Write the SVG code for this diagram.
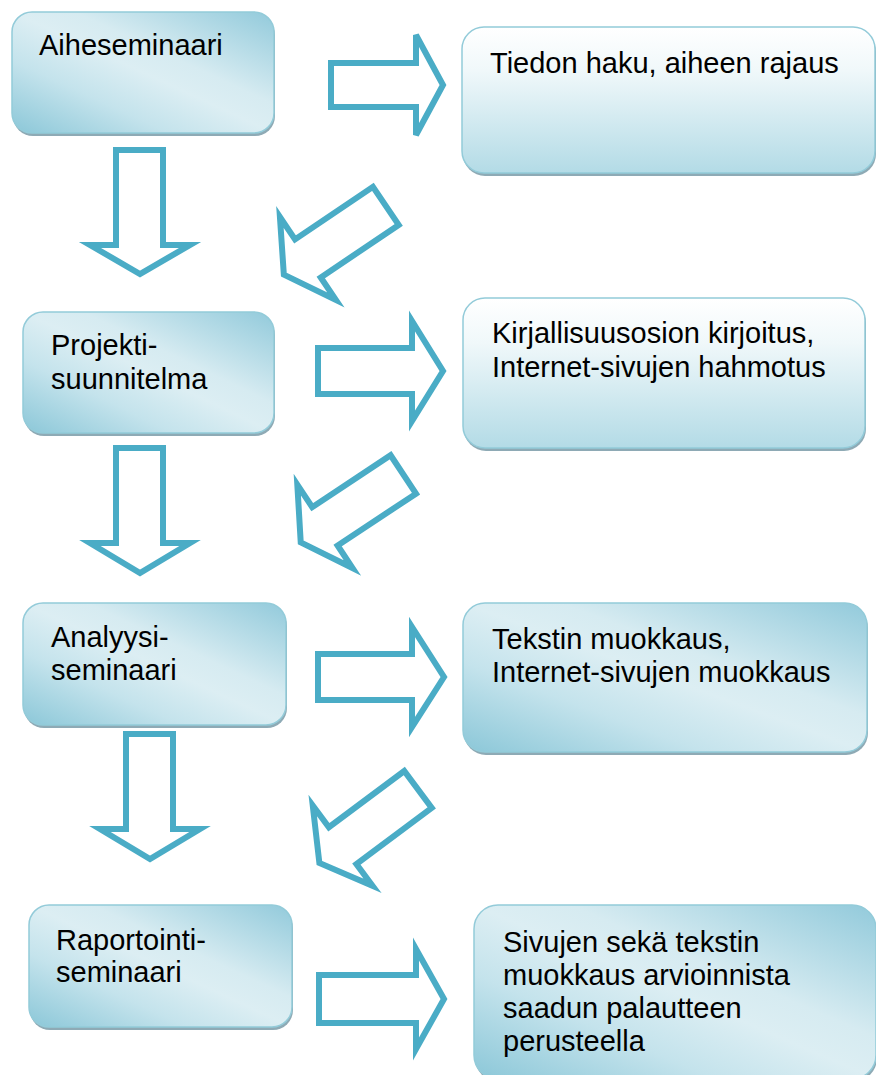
<svg xmlns="http://www.w3.org/2000/svg" width="876" height="1075" viewBox="0 0 876 1075">
<defs>
<linearGradient id="gDiag" x1="0" y1="1" x2="1" y2="0">
<stop offset="0" stop-color="#8bc7d8"/>
<stop offset="0.3" stop-color="#c4e3ec"/>
<stop offset="0.5" stop-color="#dceef3"/>
<stop offset="0.62" stop-color="#d6ebf1"/>
<stop offset="1" stop-color="#92cadb"/>
</linearGradient>
<linearGradient id="gVert" x1="0" y1="0" x2="0" y2="1">
<stop offset="0" stop-color="#ffffff"/>
<stop offset="0.3" stop-color="#f0f8fa"/>
<stop offset="1" stop-color="#b3dbe6"/>
</linearGradient>
<path id="diagArrow" d="M3,-23 H97 V-50 L126,0 L97,50 V23 H3 Z"/>
</defs>
<style>
.shadow{fill:#8eaab5;}
.boxD{fill:url(#gDiag);stroke:#93cbd9;stroke-width:1.5;}
.boxV{fill:url(#gVert);stroke:#93cbd9;stroke-width:1.5;}
.lbl{font-family:"Liberation Sans",Arial,sans-serif;font-size:29px;fill:#000;}
.arrow{fill:#fff;stroke:#4aacc6;stroke-width:6;stroke-linejoin:miter;}
</style>
<rect width="876" height="1075" fill="#fff"/>

<g id="connectors">
<path class="arrow" d="M331,63 H416 V35 L443,85 L416,135 V107 H331 Z"/>
<path class="arrow" d="M318,348 H412 V321 L443,371 L412,421 V394 H318 Z"/>
<path class="arrow" d="M318,654 H412 V627 L444,677 L412,727 V700 H318 Z"/>
<path class="arrow" d="M319,975 H416 V949 L444,999 L416,1049 V1023 H319 Z"/>
<path class="arrow" d="M116,150 V245 H90 L140,274 L190,245 H163 V150 Z"/>
<path class="arrow" d="M116,448 V543 H90 L140,573 L190,543 H163 V448 Z"/>
<path class="arrow" d="M126,734 V829 H100 L150,859 L200,829 H173 V734 Z"/>
<use href="#diagArrow" class="arrow" transform="translate(388.3,204.2) rotate(146)"/>
<use href="#diagArrow" class="arrow" transform="translate(405.8,472.8) rotate(146.5)"/>
<use href="#diagArrow" class="arrow" transform="translate(420.4,787.7) rotate(143.3)"/>
</g>

<g id="aiheseminaari">
<rect class="shadow" x="13" y="15" width="262" height="121" rx="20"/>
<rect class="boxD" x="12" y="12" width="262" height="121" rx="20"/>
<text class="lbl" x="39" y="55">Aiheseminaari</text>
</g>

<g id="tiedon-haku">
<rect class="shadow" x="463" y="30" width="413" height="146" rx="22"/>
<rect class="boxV" x="462" y="27" width="413" height="146" rx="22"/>
<text class="lbl" x="490" y="73">Tiedon haku, aiheen rajaus</text>
</g>

<g id="projektisuunnitelma">
<rect class="shadow" x="24" y="315" width="251" height="121" rx="20"/>
<rect class="boxD" x="23" y="312" width="251" height="121" rx="20"/>
<text class="lbl" x="51" y="355">Projekti-</text>
<text class="lbl" x="51" y="389">suunnitelma</text>
</g>

<g id="kirjallisuusosio">
<rect class="shadow" x="464" y="301" width="402" height="150" rx="22"/>
<rect class="boxV" x="463" y="298" width="402" height="150" rx="22"/>
<text class="lbl" x="492" y="343">Kirjallisuusosion kirjoitus,</text>
<text class="lbl" x="492" y="377">Internet-sivujen hahmotus</text>
</g>

<g id="analyysiseminaari">
<rect class="shadow" x="24" y="606" width="263" height="122" rx="20"/>
<rect class="boxD" x="23" y="603" width="263" height="122" rx="20"/>
<text class="lbl" x="51" y="647">Analyysi-</text>
<text class="lbl" x="51" y="680">seminaari</text>
</g>

<g id="tekstin-muokkaus">
<rect class="shadow" x="464" y="606" width="404" height="149" rx="22"/>
<rect class="boxD" x="463" y="603" width="404" height="149" rx="22"/>
<text class="lbl" x="492" y="649">Tekstin muokkaus,</text>
<text class="lbl" x="492" y="682">Internet-sivujen muokkaus</text>
</g>

<g id="raportointiseminaari">
<rect class="shadow" x="30" y="908" width="263" height="122" rx="20"/>
<rect class="boxD" x="29" y="905" width="263" height="122" rx="20"/>
<text class="lbl" x="56" y="950">Raportointi-</text>
<text class="lbl" x="56" y="982">seminaari</text>
</g>

<g id="sivujen-muokkaus">
<rect class="shadow" x="475" y="908" width="402" height="174" rx="24"/>
<rect class="boxD" x="474" y="905" width="402" height="174" rx="24"/>
<text class="lbl" x="503" y="952">Sivujen sekä tekstin</text>
<text class="lbl" x="503" y="985">muokkaus arvioinnista</text>
<text class="lbl" x="503" y="1018">saadun palautteen</text>
<text class="lbl" x="503" y="1051">perusteella</text>
</g>
</svg>
